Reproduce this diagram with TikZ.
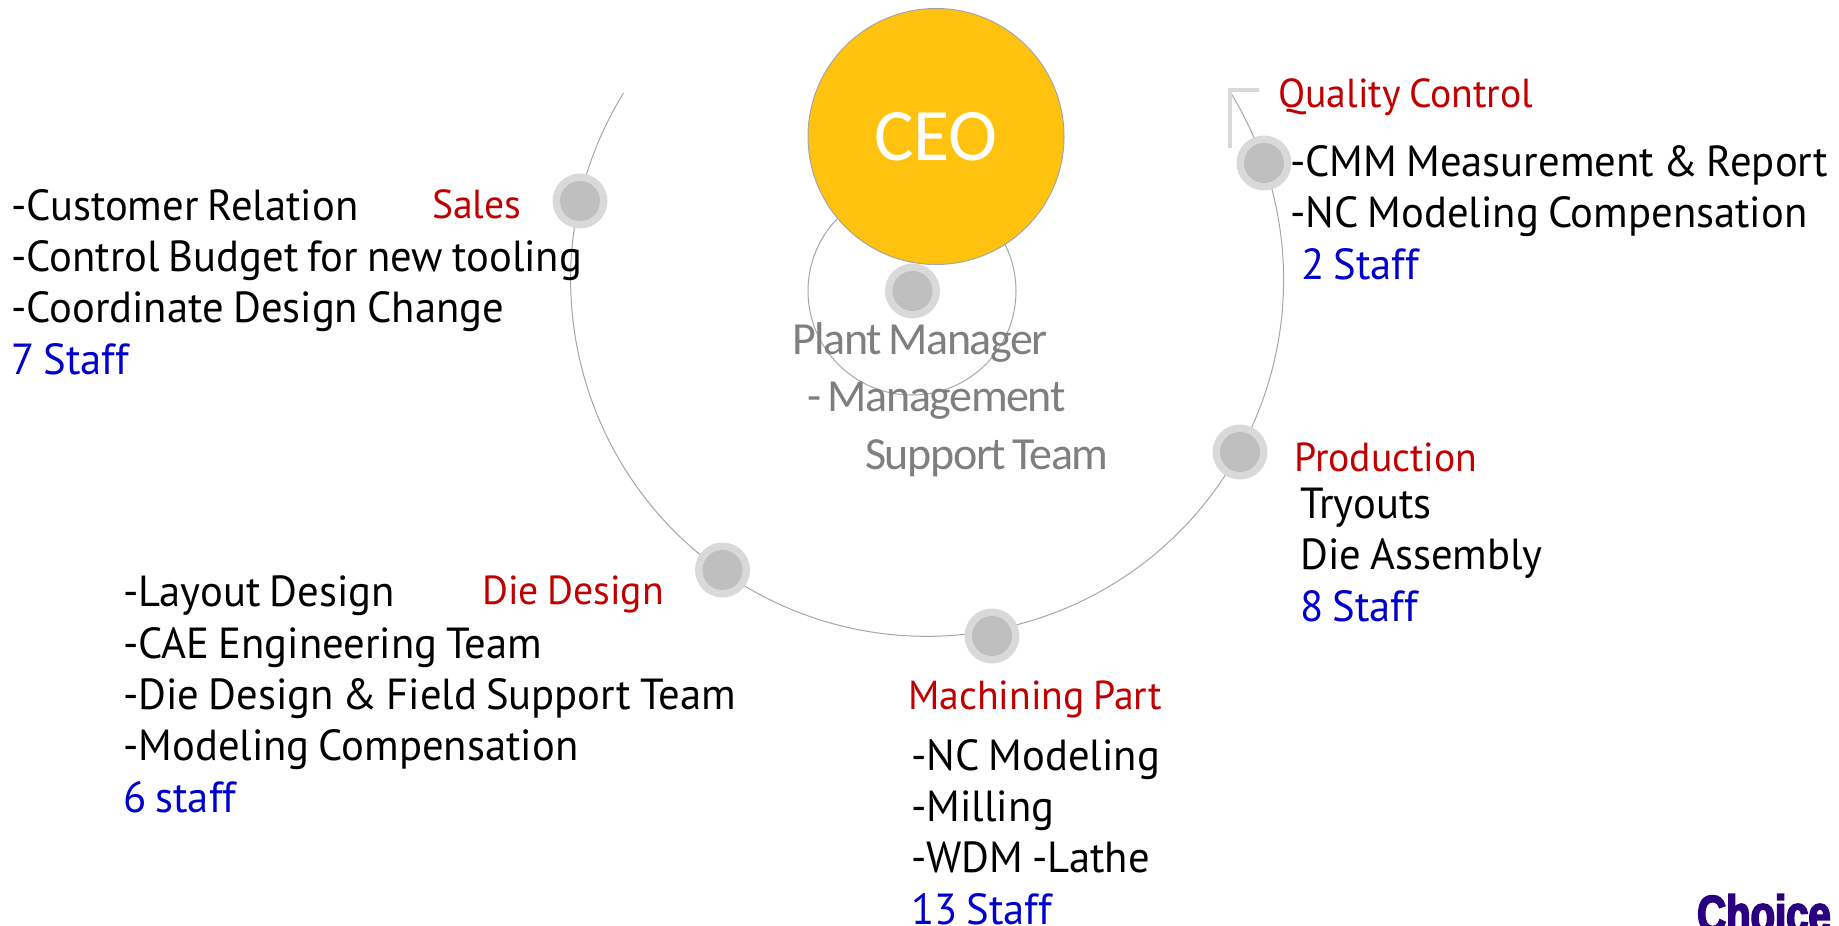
\documentclass[tikz,border=0pt]{standalone}
\usepackage{fontspec}
\setmainfont[FakeStretch=0.98,WordSpace=0.8]{PT Sans}
\newfontfamily\pmfont[LetterSpace=-3,WordSpace=0.7]{Carlito}
\newfontfamily\ceofont{Carlito}
\newfontfamily\logofont[FakeStretch=0.77,FakeBold=3.5]{Liberation Sans}
\definecolor{ceofill}{HTML}{FFC20E}
\definecolor{redlab}{HTML}{C00000}
\definecolor{bluelab}{HTML}{0000CC}
\definecolor{ringout}{HTML}{D9D9D9}
\definecolor{ringin}{HTML}{BFBFBF}
\definecolor{arcgray}{HTML}{A6A6A6}
\definecolor{pmgray}{HTML}{7F7F7F}
\definecolor{logoblue}{HTML}{2A0080}
\tikzset{
  dotout/.style={circle,fill=ringout,draw=none,minimum size=55pt,inner sep=0pt},
  dotin/.style={circle,fill=ringin,draw=none,minimum size=40pt,inner sep=0pt},
  head/.style={anchor=base west,inner sep=0pt,text=redlab,font=\fontsize{40.5}{46}\selectfont},
  body/.style={anchor=base west,inner sep=0pt,align=left,text=black,font=\fontsize{43.5}{51.3}\selectfont},
  arcline/.style={draw=arcgray,line width=1pt}
}
\newcommand{\staff}[1]{\textcolor{bluelab}{#1}}
\begin{document}
\begin{tikzpicture}[x=1pt,y=-1pt]
\useasboundingbox (0,0) rectangle (1839,926);
% big arc from upper left round the bottom to upper right
\coordinate (arcstart) at (623.5,93);
\draw[arcline] (arcstart) arc[start angle=148.4,end angle=391.6,radius=356.5pt];
% small circle
\node[circle,arcline,fill=none,minimum size=208pt,inner sep=0pt] (pmring) at (912,291) {};
% CEO
\node[circle,fill=ceofill,draw=arcgray,line width=1pt,minimum size=256pt,inner sep=0pt,text=white,font=\ceofont\fontsize{74}{78}\selectfont] (ceo) at (936,136.5) {\raisebox{-5pt}{CEO}};
% bracket
\coordinate (brA) at (1259,90);
\coordinate (brB) at (1230,90);
\coordinate (brC) at (1230,148);
\draw[ringout,line width=3.5pt] (brA) -- (brB) -- (brC);
% dots
\foreach \n/\x/\y in {pm/912.5/291,sales/580/201,qc/1264/163,prod/1240/452,mach/992/636,die/722.5/570}{
  \node[dotout] (\n o) at (\x,\y) {};
  \node[dotin] (\n i) at (\x,\y) {};
}
% texts
\node[anchor=base west,inner sep=0pt,align=left,text=pmgray,font=\pmfont\fontsize{46}{57.5}\selectfont] (pmtext) at (792,469)
 {Plant Manager\\\hspace*{15pt}- Management\\\hspace*{73pt}Support Team};
\node[head] (saleshead) at (432,218) {Sales};
\node[body] (salesbody) at (11,374) {-Customer Relation\\-Control Budget for new tooling\\-Coordinate Design Change\\\staff{7 Staff}};
\node[head] (qchead) at (1278,107) {Quality Control};
\node[body] (qcbody) at (1290,279) {-CMM Measurement \& Report\\-NC Modeling Compensation\\\hspace*{11pt}\staff{2 Staff}};
\node[head] (prodhead) at (1294,471) {Production};
\node[body] (prodbody) at (1300,621) {Tryouts\\Die Assembly\\\staff{8 Staff}};
\node[head] (machhead) at (908,709) {Machining Part};
\node[body] (machbody) at (911,924) {-NC Modeling\\-Milling\\-WDM -Lathe\\\staff{13 Staff}};
\node[head] (diehead) at (482,604) {Die Design};
\node[body] (diebody) at (123,812) {-Layout Design\\-CAE Engineering Team\\-Die Design \& Field Support Team\\-Modeling Compensation\\\staff{6 staff}};
\node[anchor=base west,inner sep=0pt,text=logoblue,font=\logofont\bfseries\fontsize{52}{56}\selectfont] (logo) at (1697,932) {Choice};
\end{tikzpicture}
\end{document}
